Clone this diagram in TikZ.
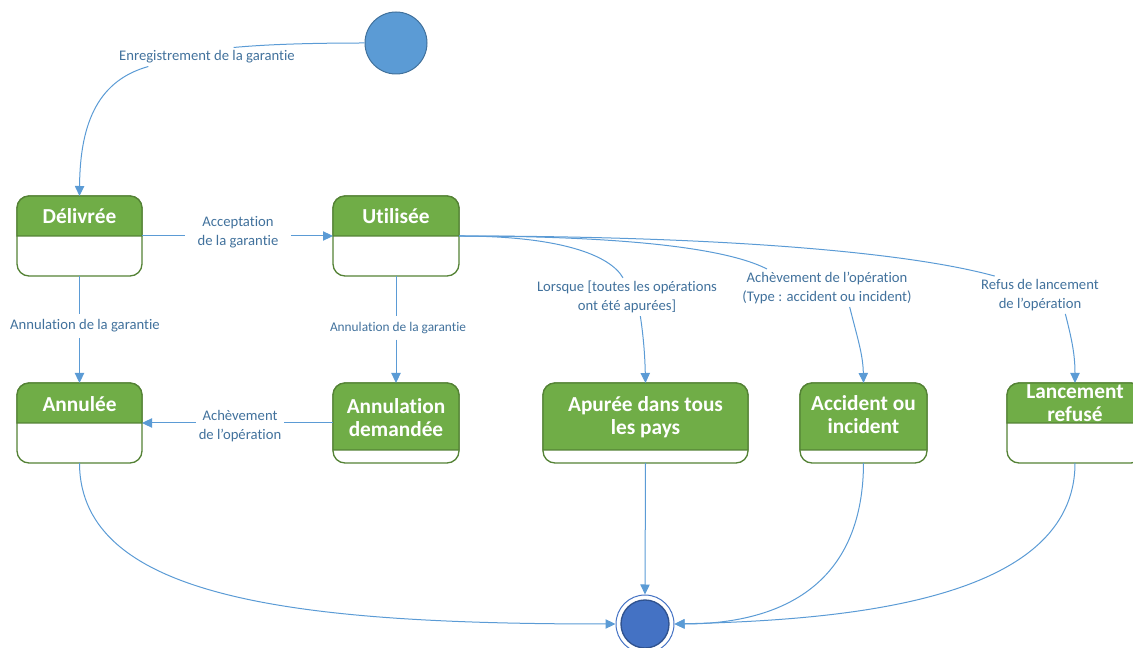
\documentclass[tikz,border=0pt]{standalone}
\usepackage{fontspec}
\setmainfont{Carlito}[Ligatures=NoCommon]
\usetikzlibrary{arrows.meta}

\definecolor{vert}{RGB}{112,173,71}
\definecolor{vertfonce}{RGB}{84,130,53}
\definecolor{bleuligne}{RGB}{91,155,213}
\definecolor{bleutexte}{RGB}{65,113,156}
\definecolor{bleubord}{RGB}{65,113,156}
\definecolor{bleufin}{RGB}{68,114,196}
\definecolor{bleufinfonce}{RGB}{47,82,143}

\tikzset{every picture/.style={line width=0.75pt},
	etat/.style={rectangle, rounded corners=9pt, draw=vertfonce, fill=white, line width=1pt, minimum height=60pt, inner sep=0pt, outer sep=0pt},
	entete/.style={fill=vert, draw=vertfonce, line width=1pt},
	titre/.style={text=white, font=\bfseries\fontsize{16}{17.25}\selectfont, align=center, inner sep=0pt},
	etiquette/.style={text=bleutexte, font=\fontsize{11}{14.25}\selectfont, align=center, inner sep=2pt},
	transition/.style={draw=bleuligne, line width=0.75pt},
	fleche/.style={transition, -{Triangle[length=7.5pt,width=7pt]}},
	debut/.style={circle, fill=bleuligne, draw=bleubord, line width=0.75pt, minimum size=46.5pt, inner sep=0pt},
	fin/.style={circle, fill=white, draw=bleufin, line width=0.75pt, minimum size=43.5pt, inner sep=0pt,
		path picture={\filldraw[fill=bleufin, draw=bleufinfonce, line width=1pt] (path picture bounding box.center) circle (18pt);}},
}

\begin{document}
\begin{tikzpicture}[x=0.75pt,y=0.75pt,yscale=-1,xscale=1]
	\useasboundingbox (0,0) rectangle (1133,648);

	%Etats
	\node [debut] (debut) at (396,43) {};
	\node [etat, minimum width=93.75pt] (delivree) at (79.5,236) {};
	\node [etat, minimum width=94.5pt] (utilisee) at (396,236) {};
	\node [etat, minimum width=93.75pt] (annulee) at (79.5,423) {};
	\node [etat, minimum width=94.5pt] (demandee) at (396,423) {};
	\node [etat, minimum width=153.75pt] (apuree) at (645.5,423) {};
	\node [etat, minimum width=95.25pt] (accident) at (863.5,423) {};
	\node [etat, minimum width=102pt] (refuse) at (1075,423) {};
	\node [fin] (fin) at (645,624) {};

	%Entetes
	\filldraw [entete] (delivree.west) [rounded corners=9pt] -- (delivree.north west) -- (delivree.north east) [sharp corners] -- (delivree.east) -- cycle;
	\filldraw [entete] (utilisee.west) [rounded corners=9pt] -- (utilisee.north west) -- (utilisee.north east) [sharp corners] -- (utilisee.east) -- cycle;
	\filldraw [entete] (annulee.west) [rounded corners=9pt] -- (annulee.north west) -- (annulee.north east) [sharp corners] -- (annulee.east) -- cycle;
	\filldraw [entete] (demandee.west |- 0,450) [rounded corners=9pt] -- (demandee.north west) -- (demandee.north east) [sharp corners] -- (demandee.east |- 0,450) -- cycle;
	\filldraw [entete] (apuree.west |- 0,450) [rounded corners=9pt] -- (apuree.north west) -- (apuree.north east) [sharp corners] -- (apuree.east |- 0,450) -- cycle;
	\filldraw [entete] (accident.west |- 0,450) [rounded corners=9pt] -- (accident.north west) -- (accident.north east) [sharp corners] -- (accident.east |- 0,450) -- cycle;
	\filldraw [entete] (refuse.west) [rounded corners=9pt] -- (refuse.north west) -- (refuse.north east) [sharp corners] -- (refuse.east) -- cycle;

	% Titres
	\node [titre] (delivree-t) at (79.5,216) {Délivrée};
	\node [titre] (utilisee-t) at (396,216) {Utilisée};
	\node [titre] (annulee-t) at (79.5,404) {Annulée};
	\node [titre] (demandee-t) at (396,418) {Annulation\\demandée};
	\node [titre] (apuree-t) at (645.5,417) {Apurée dans tous\\les pays};
	\node [titre] (accident-t) at (863.5,415) {Accident ou\\incident};
	\node [titre] (refuse-t) at (1075,403) {Lancement\\refusé};

	% Text Node
	\node [etiquette] (lbl-enreg) at (207,57) {Enregistrement de la garantie};
	\node [etiquette, inner xsep=9pt] (lbl-accept) at (238,232) {Acceptation\\de la garantie};
	\node [etiquette, inner sep=4pt] (lbl-annul1) at (85,326) {Annulation de la garantie};
	\node [etiquette, inner sep=4pt, font=\fontsize{10}{12}\selectfont] (lbl-annul2) at (398,328) {Annulation de la garantie};
	\node [etiquette] (lbl-achev) at (240,426) {Achèvement\\de l’opération};
	\node [etiquette] (lbl-lorsque) at (627,297) {Lorsque [toutes les opérations\\ont été apurées]};
	\node [etiquette] (lbl-accident) at (827,288) {Achèvement de l’opération\\(Type : accident ou incident)};
	\node [etiquette] (lbl-refus) at (1040,295) {Refus de lancement\\de l’opération};

	%Transitions
	\draw [transition] (debut.west) .. controls (300,43) and (260,45) .. ([xshift=20pt]lbl-enreg.north);
	\draw [fleche] ([xshift=-44pt]lbl-enreg.south) .. controls (100,80) and (80,120) .. (delivree.north);
	\draw [transition] (delivree.east) -- (delivree.east -| lbl-accept.west);
	\draw [fleche] (utilisee.west -| lbl-accept.east) -- (utilisee.west);
	\draw [transition] (delivree.south) -- (delivree.south |- lbl-annul1.north);
	\draw [fleche] (annulee.north |- lbl-annul1.south) -- (annulee.north);
	\draw [transition] (utilisee.south) -- (utilisee.south |- lbl-annul2.north);
	\draw [fleche] (demandee.north |- lbl-annul2.south) -- (demandee.north);
	\draw [transition] (demandee.west) -- (demandee.west -| lbl-achev.east);
	\draw [fleche] (annulee.east -| lbl-achev.west) -- (annulee.east);
	\draw [transition] (utilisee.east) .. controls (560,236) and (610,255) .. ([xshift=-3pt]lbl-lorsque.north);
	\draw [fleche] ([xshift=10pt]lbl-lorsque.south) .. controls (644,340) and (645,360) .. (apuree.north);
	\draw [transition] (utilisee.east) .. controls (600,236) and (720,245) .. ([xshift=-45pt]lbl-accident.north);
	\draw [fleche] ([xshift=17pt]lbl-accident.south) .. controls (858,340) and (863,355) .. (accident.north);
	\draw [transition] (utilisee.east) .. controls (700,236) and (900,250) .. ([xshift=-34pt]lbl-refus.north);
	\draw [fleche] ([xshift=19pt]lbl-refus.south) .. controls (1072,340) and (1075,355) .. (refuse.north);
	\draw [fleche] (annulee.south) .. controls (80,600) and (300,624) .. (fin.west);
	\draw [fleche] (apuree.south) -- (fin.north);
	\draw [fleche] (accident.south) .. controls (863,600) and (760,624) .. (fin.east);
	\draw [fleche] (refuse.south) .. controls (1075,600) and (850,620) .. (fin.east);

\end{tikzpicture}
\end{document}
